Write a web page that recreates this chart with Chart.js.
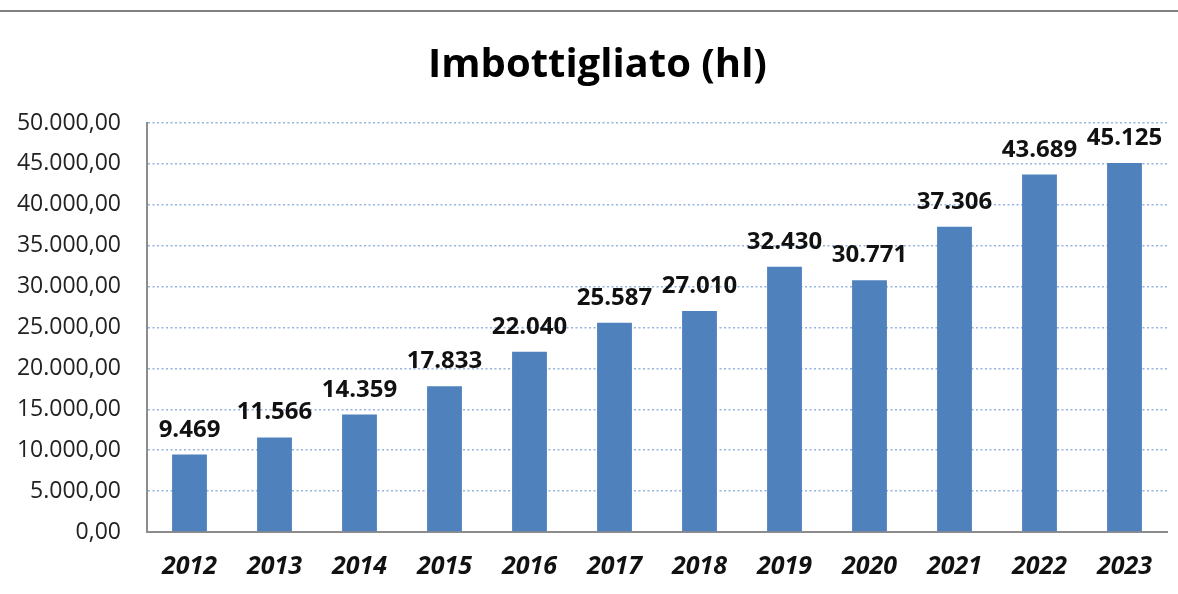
<!DOCTYPE html>
<html>
<head>
<meta charset="utf-8">
<script src="https://cdn.jsdelivr.net/npm/chart.js@4.4.1/dist/chart.umd.min.js"></script>
<style>
  html, body { margin: 0; padding: 0; background: #fff; }
  #wrap { position: relative; width: 1178px; height: 594px; }
  #topline { position: absolute; left: 0; top: 10px; width: 1178px; height: 2px; background: #808080; }
  #myChart { position: absolute; left: 0; top: 0; }
  #title {
    position: absolute; left: 0; top: 34px; width: 1195px; height: 48px;
    text-align: center; line-height: 48px; color: #000;
    font: bold 40px 'Open Sans', 'DejaVu Sans', sans-serif;
  }
</style>
</head>
<body>
<div id="wrap">
  <div id="topline"></div>
  <canvas id="myChart" width="1178" height="594"></canvas>
  <div id="title">Imbottigliato (hl)</div>
</div>
<script>
// dati
const years = ['2012','2013','2014','2015','2016','2017','2018','2019','2020','2021','2022','2023'];
const bottled = [9469, 11566, 14359, 17833, 22040, 25587, 27010, 32430, 30771, 37306, 43689, 45125];
const yTicks = [0, 5000, 10000, 15000, 20000, 25000, 30000, 35000, 40000, 45000, 50000];

const FONT = "'Open Sans', 'DejaVu Sans', sans-serif";

// formato italiano: 45.125 / 50.000,00
function itFmt(v, dec) {
  var parts = Number(v).toFixed(dec).split('.');
  parts[0] = parts[0].replace(/\B(?=(\d{3})+(?!\d))/g, '.');
  return dec ? parts[0] + ',' + parts[1] : parts[0];
}

// etichette sopra le barre
const barLabels = {
  id: 'barLabels',
  afterDatasetsDraw(chart) {
    const ctx = chart.ctx;
    const meta = chart.getDatasetMeta(0);
    ctx.save();
    ctx.font = 'bold 24px ' + FONT;
    ctx.fillStyle = '#111';
    ctx.textAlign = 'center';
    ctx.textBaseline = 'alphabetic';
    meta.data.forEach(function (bar, i) {
      ctx.fillText(itFmt(bottled[i], 0), bar.x, bar.y - 18);
    });
    ctx.restore();
  }
};

var ctx = document.getElementById('myChart').getContext('2d');
new Chart(ctx, {
  type: 'bar',
  data: {
    labels: years,
    datasets: [{
      label: 'Imbottigliato (hl)',
      data: bottled,
      backgroundColor: '#4F81BD',
      borderWidth: 0,
      categoryPercentage: 1.0,
      barPercentage: 0.41
    }]
  },
  plugins: [barLabels],
  options: {
    responsive: false,
    devicePixelRatio: 1,
    animation: false,
    layout: { padding: { top: 123, left: 0, right: 11, bottom: 13 } },
    plugins: {
      legend: { display: false },
      tooltip: { enabled: false },
      title: { display: false }
    },
    scales: {
      x: {
        afterFit: function (scale) { scale.height = 49; },
        grid: { display: false, drawTicks: false },
        border: { display: true, color: '#8c8c8c', width: 2 },
        ticks: {
          color: '#111',
          padding: 20,
          font: { family: FONT, size: 25, weight: 'bold', style: 'italic' }
        }
      },
      y: {
        min: 0,
        max: 50000,
        afterFit: function (scale) { scale.width = 147; },
        afterBuildTicks: function (scale) {
          scale.ticks = yTicks.map(function (v) { return { value: v }; });
        },
        grid: {
          drawTicks: false,
          lineWidth: 1.5,
          color: function (c) { return c.tick && c.tick.value === 0 ? 'rgba(0,0,0,0)' : '#95b3e0'; }
        },
        border: { display: true, color: '#8c8c8c', width: 2, dash: [2, 2.5] },
        ticks: {
          color: '#222',
          padding: 26,
          font: { family: FONT, size: 23 },
          callback: function (v) { return itFmt(v, 2); }
        }
      }
    }
  }
});
</script>
</body>
</html>
